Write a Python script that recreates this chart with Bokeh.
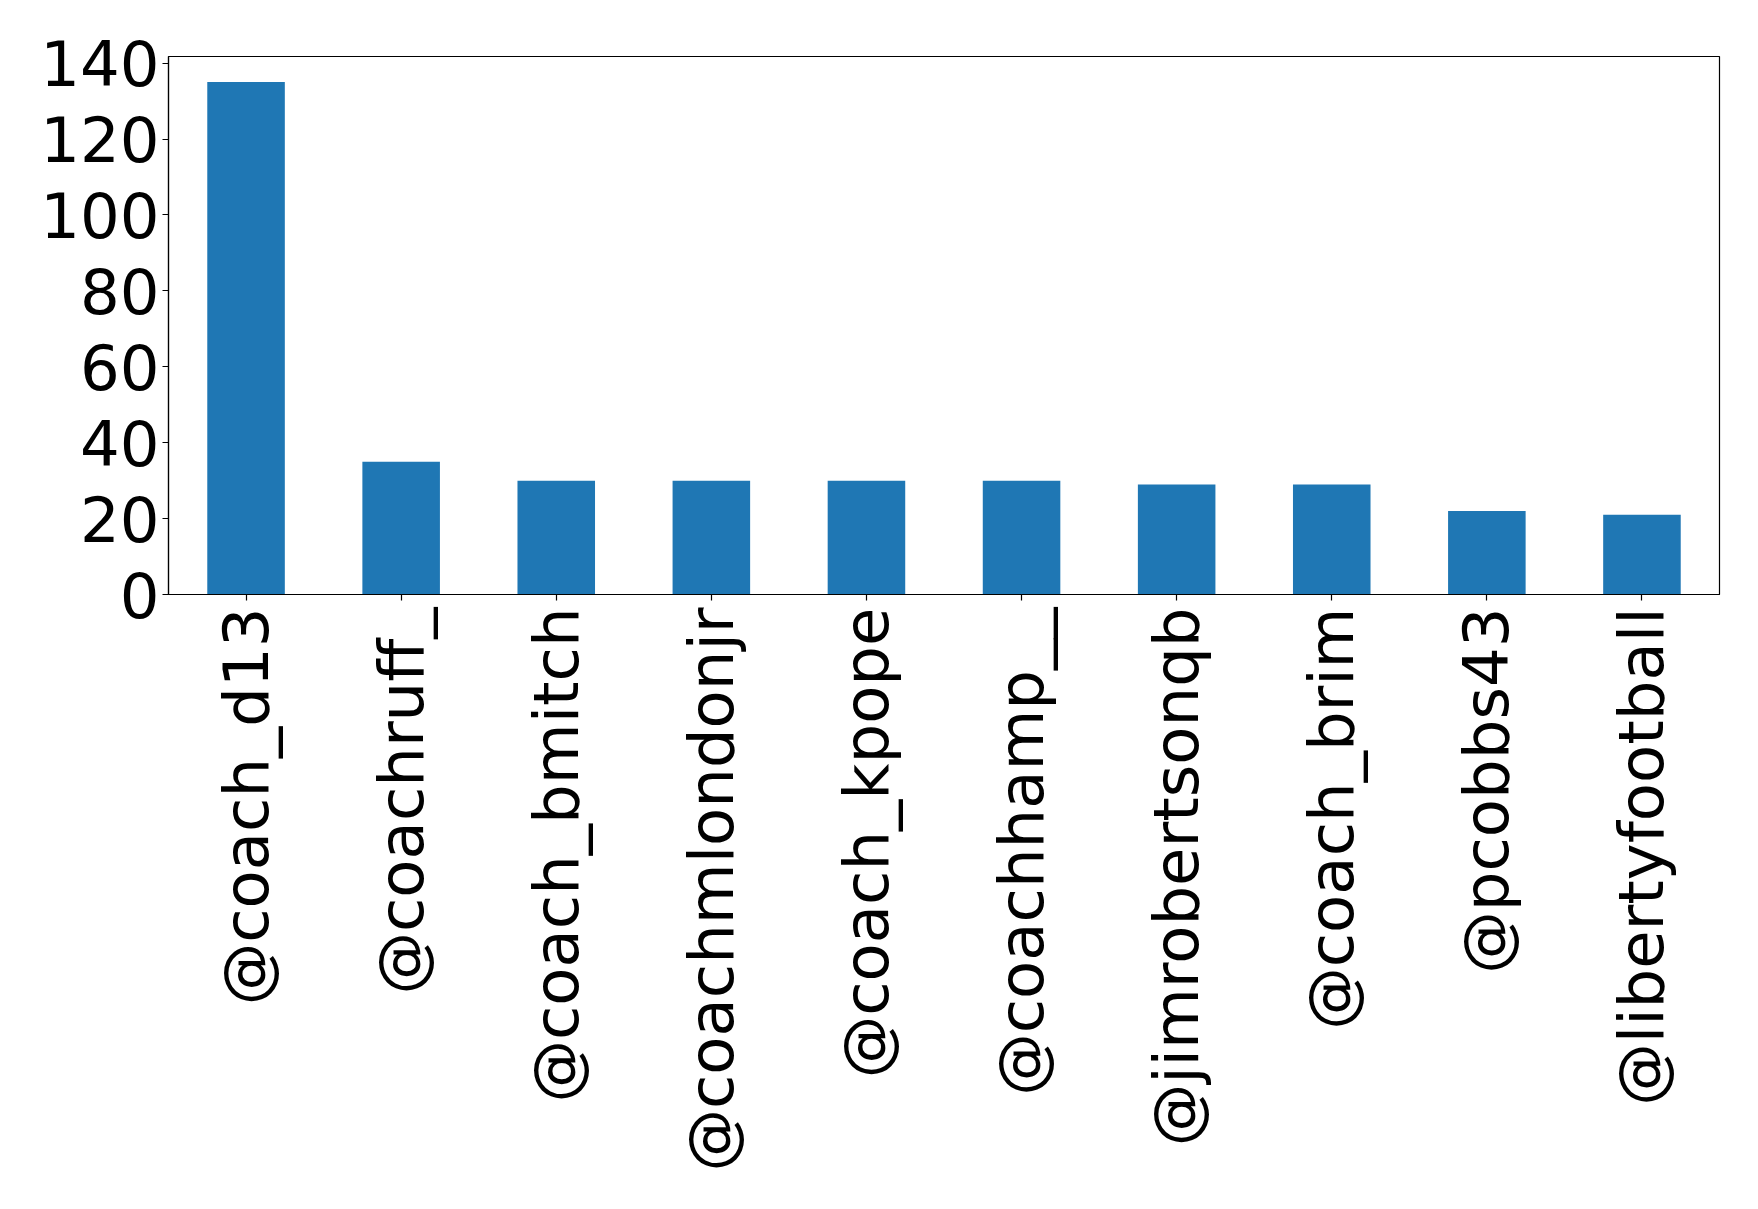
import math
from bokeh.plotting import figure
from bokeh.models import ColumnDataSource, Range1d, FixedTicker
from bokeh.embed import file_html
from bokeh.resources import INLINE

handles = ["@coach_d13", "@coachruff_", "@coach_bmitch", "@coachmlondonjr", "@coach_kpope",
           "@coachhamp__", "@jimrobertsonqb", "@coach_brim", "@pcobbs43", "@libertyfootball"]
counts = [135, 35, 30, 30, 30, 30, 29, 29, 22, 21]
y_ticks = [0, 20, 40, 60, 80, 100, 120, 140]

src = ColumnDataSource(dict(x=handles, top=counts))

p = figure(x_range=handles, y_range=Range1d(0, 141.75), width=1742, height=1193,
           output_backend="svg", toolbar_location=None,
           min_border_left=168, min_border_right=23, min_border_top=56, min_border_bottom=599)
p.vbar(x="x", top="top", width=0.5, source=src, fill_color="#1f77b4", line_color=None)

p.xgrid.visible = False
p.ygrid.visible = False
p.outline_line_color = "black"
p.outline_line_width = 1.2
p.background_fill_color = "white"
p.border_fill_color = "white"

p.yaxis.ticker = FixedTicker(ticks=y_ticks)
for ax in (p.xaxis[0], p.yaxis[0]):
    ax.major_label_text_font = "DejaVu Sans"
    ax.major_label_text_font_size = "62.5px"
    ax.major_label_text_color = "black"
    ax.major_tick_in = 0
    ax.major_tick_out = 6
    ax.minor_tick_line_color = None
    ax.axis_line_color = "black"
    ax.axis_line_width = 1.2
    ax.major_tick_line_width = 1.2
p.yaxis.major_label_standoff = 3
p.xaxis.major_label_standoff = 7
p.xaxis.major_label_orientation = math.pi / 2
p.x_range.range_padding = 0
p.x_range.factor_padding = 0

open("out.html", "w").write(file_html(p, INLINE))
